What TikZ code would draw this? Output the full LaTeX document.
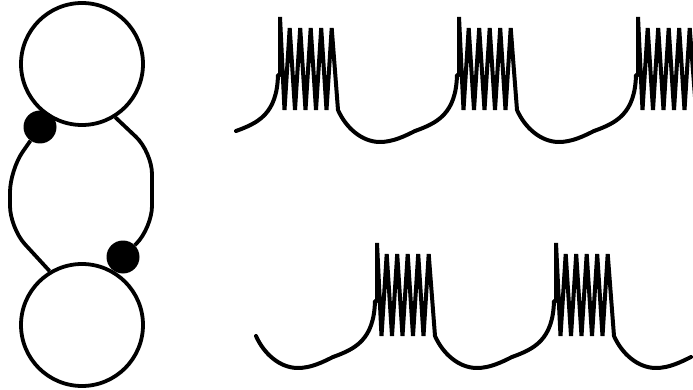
\documentclass[tikz,border=0pt]{standalone}
\begin{document}
\begin{tikzpicture}[x=1pt,y=-1pt,
  wire/.style={line width=3.8pt},
  neuron/.style={circle,draw,line width=3.8pt,minimum size=122pt,inner sep=0pt},
  syn/.style={circle,fill=black,minimum size=33pt,inner sep=0pt},
  trace/.style={line width=4pt,line join=bevel,line cap=round}]
\clip (0,0) rectangle (693,390);
% network
\node[neuron] (top) at (82,64) {};
\node[neuron] (bot) at (82,325) {};
\node[syn] (s1) at (40,127) {};
\node[syn] (s2) at (123,257) {};
\draw[wire, rounded corners=22pt] (s1) -- (10,170) -- (10,228) -- (bot.121);
\draw[wire, rounded corners=22pt] (top.-58) -- (152,152) -- (152,228) -- (s2);
% spike trains
\foreach \s/\dy in {280/0,459/0,638/0,377/226,556/226} {
  \draw[trace, shift={(\s,\dy)}] (-44,131) .. controls (-22,123) and (-3,114) .. (-2,75)
    -- (0,75) -- (0,17) -- (4.5,110) -- (9.7,28) -- (15,110) -- (20.2,28)
    -- (25.5,110) -- (30.7,28) -- (36,110) -- (41.2,28) -- (46.5,110)
    -- (51.7,28) -- (58,110)
    .. controls (66,128) and (82,142) .. (100,142)
    .. controls (113,142) and (125,136) .. (135,131);
}
\draw[trace, shift={(198,226)}] (58,110) .. controls (66,128) and (82,142) .. (100,142)
    .. controls (113,142) and (125,136) .. (135,131);
\end{tikzpicture}
\end{document}
